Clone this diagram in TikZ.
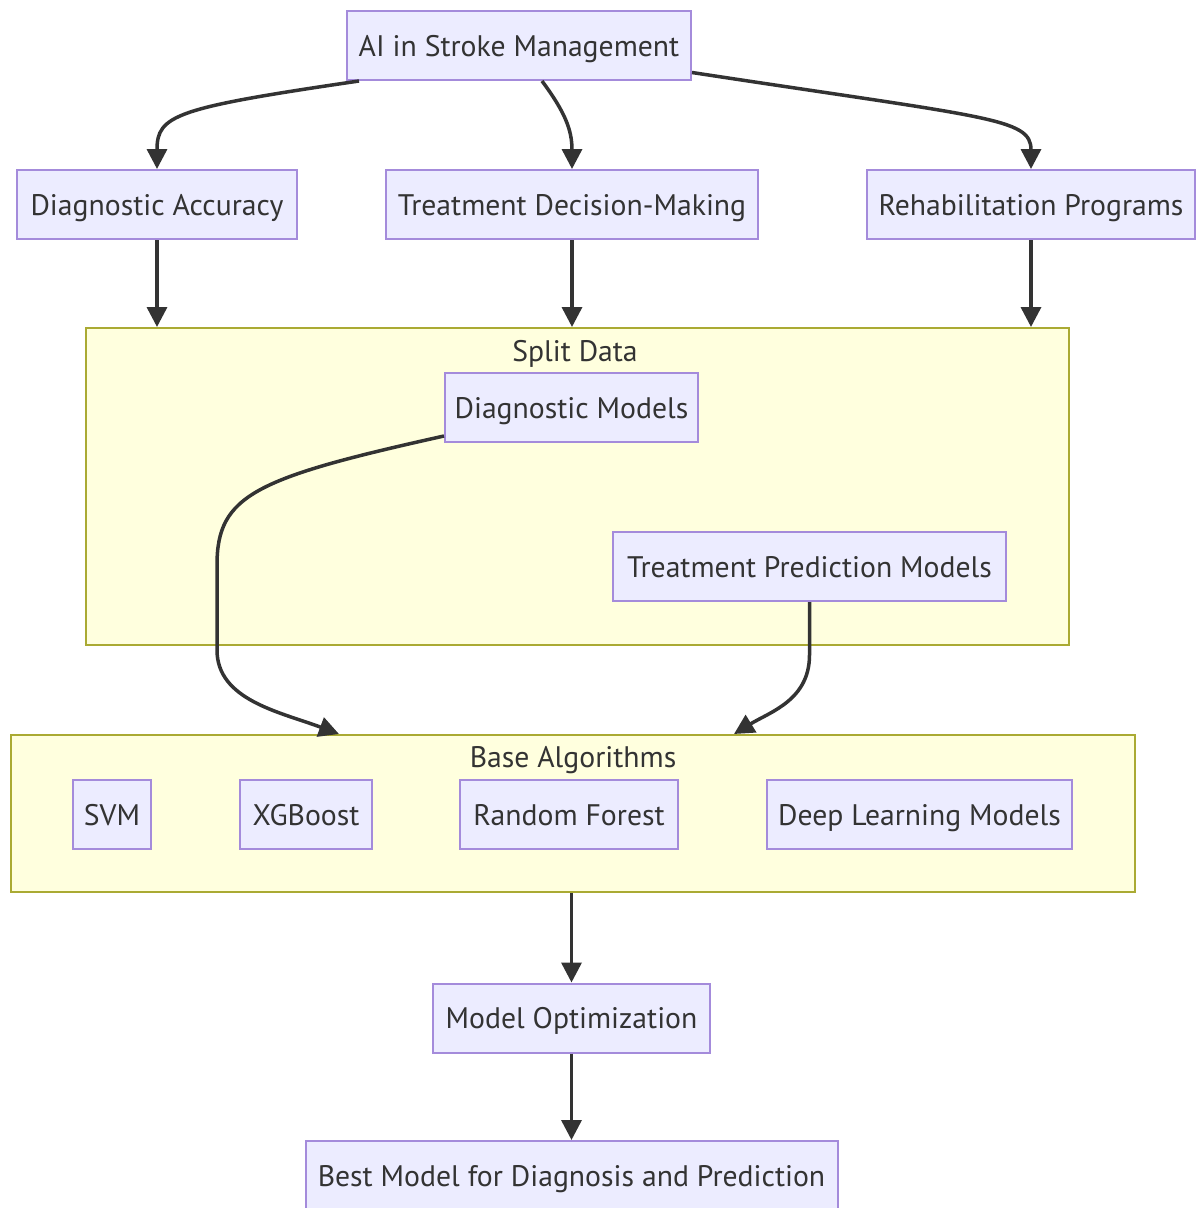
\documentclass[tikz,border=0pt]{standalone}
\usepackage{fontspec}
\setmainfont{PT Sans}
\usetikzlibrary{arrows.meta,calc}
\definecolor{nodefill}{HTML}{ECECFF}
\definecolor{nodeline}{HTML}{A48BDB}
\definecolor{clfill}{HTML}{FFFFDE}
\definecolor{clline}{HTML}{AAAA33}
\definecolor{txt}{HTML}{333333}
\tikzset{
  box/.style={draw=nodeline,fill=nodefill,line width=2pt,minimum height=69pt,inner sep=0pt,
    text=txt,font=\fontsize{29.7}{34}\selectfont,text height=21pt,text depth=0pt},
  cluster/.style={draw=clline,fill=clfill,line width=2pt,inner sep=0pt},
  cltitle/.style={text=txt,font=\fontsize{29.7}{34}\selectfont,inner sep=0pt,text height=21pt,text depth=0pt},
  link/.style={draw=txt,line width=3.5pt,-{Triangle[length=20pt,width=20pt]}},
}
\begin{document}
\begin{tikzpicture}[x=1pt,y=-1pt]
\useasboundingbox[fill=white] (0,0) rectangle (1197,1208);
% clusters
\node[cluster,minimum width=983pt,minimum height=317pt] (split) at (577.5,486.5) {};
\node[cltitle] (splitt) at (575,351) {Split Data};
\node[cluster,minimum width=1124pt,minimum height=157pt] (base) at (573,813.5) {};
\node[cltitle] (baset) at (573,757) {Base Algorithms};
% nodes
\node[box,minimum width=344pt] (ai) at (519,45.5) {AI in Stroke Management};
\node[box,minimum width=280pt] (da) at (157,204.5) {Diagnostic Accuracy};
\node[box,minimum width=372pt] (tdm) at (572,204.5) {Treatment Decision-Making};
\node[box,minimum width=328pt] (rp) at (1031,204.5) {Rehabilitation Programs};
\node[box,minimum width=253pt] (dm) at (571.5,407.5) {Diagnostic Models};
\node[box,minimum width=393pt] (tpm) at (809.5,566.5) {Treatment Prediction Models};
\node[box,minimum width=78pt] (svm) at (112,814.5) {SVM};
\node[box,minimum width=132pt] (xgb) at (306,814.5) {XGBoost};
\node[box,minimum width=218pt] (rf) at (569,814.5) {Random Forest};
\node[box,minimum width=305pt] (dl) at (919.5,814.5) {Deep Learning Models};
\node[box,minimum width=277pt] (mo) at (571.5,1018) {Model Optimization};
\node[box,minimum width=532pt] (best) at (571.5,1175.5) {Best Model for Diagnosis and Prediction};
% connectors
\draw[link] ($(ai.south west)+(13,0)$) .. controls (175,108) and (157,115) .. (da.north);
\draw[link] ($(ai.south west)+(196,0)$) .. controls (565,112) and (572,130) .. (tdm.north);
\draw[link] ($(ai.east)+(0,27)$) .. controls (990,118) and (1031,118) .. (rp.north);
\draw[link] (da.south) -- (da.south |- split.north);
\draw[link] (tdm.south) -- (tdm.south |- split.north);
\draw[link] (rp.south) -- (rp.south |- split.north);
\draw[link] ($(dm.south west)+(0,-7)$) .. controls (255,478) and (217,495) .. (217,565)
  -- (217,650) .. controls (217,700) and (280,712) .. ($(base.north west)+(329,0)$);
\draw[link] (tpm.south) -- (809.5,655) .. controls (809.5,700) and (770,712) .. ($(base.north west)+(724,0)$);
\draw[link] (base.south -| mo.north) -- (mo.north);
\draw[link] (mo.south) -- (best.north);
\end{tikzpicture}
\end{document}
